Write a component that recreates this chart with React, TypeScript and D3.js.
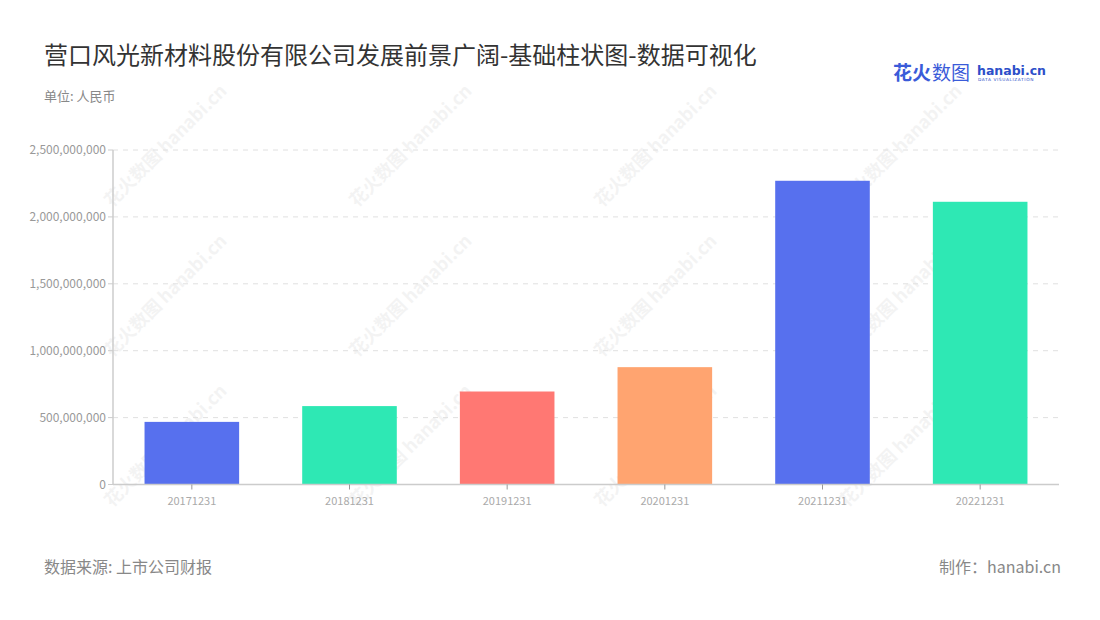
import React from "react";
import * as d3 from "d3";

const categories = ["20171231", "20181231", "20191231", "20201231", "20211231", "20221231"];
const values = [468000000, 586000000, 695000000, 877000000, 2270000000, 2113000000];
const barColors = ["#5770EE", "#2EE8B4", "#FF7873", "#FFA470", "#5770EE", "#2EE8B4"];
const yTicks = [0, 500000000, 1000000000, 1500000000, 2000000000, 2500000000];

const W = 1100, H = 620;
const M = { left: 113, right: 1059, top: 150, bottom: 484.5 };

export default function App() {
  const x = d3.scaleBand<string>().domain(categories).range([M.left, M.right]).padding(0);
  const y = d3.scaleLinear().domain([0, 2500000000]).range([M.bottom, M.top]);
  const bw = x.bandwidth() * 0.6;
  const fmt = d3.format(",");
  const font = "'Noto Sans CJK SC', 'Noto Sans', sans-serif";

  const wm: [number, number][] = [];
  for (const cx of [170, 415, 660, 905]) {
    for (const cy of [150, 300, 450]) wm.push([cx, cy]);
  }

  return (
    <svg width={W} height={H} style={{ position: "absolute", left: 0, top: 0, fontFamily: font }}>
      <rect width={W} height={H} fill="#fff" />
      {/* watermarks */}
      {wm.map(([cx, cy], i) => (
        <g key={i} transform={`translate(${cx},${cy}) rotate(-45)`} opacity={0.045}>
          <text x={0} y={0} fontSize={18} fontWeight="bold" fill="#000" textAnchor="middle">花火数图 hanabi.cn</text>
        </g>
      ))}
      <text x={44} y={64} fontSize={24} fill="#333">营口风光新材料股份有限公司发展前景广阔-基础柱状图-数据可视化</text>
      <text x={44} y={101} fontSize={13} fill="#888">单位: 人民币</text>
      {/* logo */}
      <text x={893} y={80} fontSize={19} fontWeight="bold" fill="#3a5bd9">花火</text>
      <text x={932} y={80} fontSize={19} fill="#3a5bd9">数图</text>
      <text x={977} y={75} fontSize={12.5} fontWeight="bold" fill="#2d4fc9" fontFamily="'DejaVu Sans', sans-serif">hanabi.cn</text>
      <text x={978} y={81} fontSize={4.3} fill="#2d4fc9" fontFamily="'DejaVu Sans', sans-serif" letterSpacing={0.6}>DATA VISUALIZATION</text>
      {/* grid */}
      {yTicks.map((t) => (
        <g key={t}>
          {t > 0 && (
            <line x1={M.left} x2={M.right} y1={y(t)} y2={y(t)} stroke="#e0e0e0" strokeDasharray="5,5" />
          )}
          <line x1={M.left - 5} x2={M.left} y1={y(t)} y2={y(t)} stroke="#ccc" />
          <text x={M.left - 7} y={y(t)} dy="0.35em" fontSize={12} fill="#999" textAnchor="end">{fmt(t)}</text>
        </g>
      ))}
      {/* bars */}
      {categories.map((c, i) => (
        <rect key={c} x={(x(c) as number) + (x.bandwidth() - bw) / 2} y={y(values[i])} width={bw}
          height={M.bottom - y(values[i])} fill={barColors[i]} />
      ))}
      {/* axes */}
      <line x1={M.left} x2={M.left} y1={M.top} y2={M.bottom} stroke="#ccc" strokeWidth={1.5} />
      <line x1={M.left} x2={M.right} y1={M.bottom} y2={M.bottom} stroke="#ccc" strokeWidth={1.5} />
      {categories.map((c) => {
        const cx = (x(c) as number) + x.bandwidth() / 2;
        return (
          <g key={c}>
            <line x1={cx} x2={cx} y1={M.bottom} y2={M.bottom + 5} stroke="#999" />
            <text x={cx} y={505} fontSize={11} fill="#aaa" textAnchor="middle">{c}</text>
          </g>
        );
      })}
      <text x={44} y={573} fontSize={16} fill="#888">数据来源: 上市公司财报</text>
      <text x={1061} y={573} fontSize={16} fill="#888" textAnchor="end">制作：hanabi.cn</text>
    </svg>
  );
}
